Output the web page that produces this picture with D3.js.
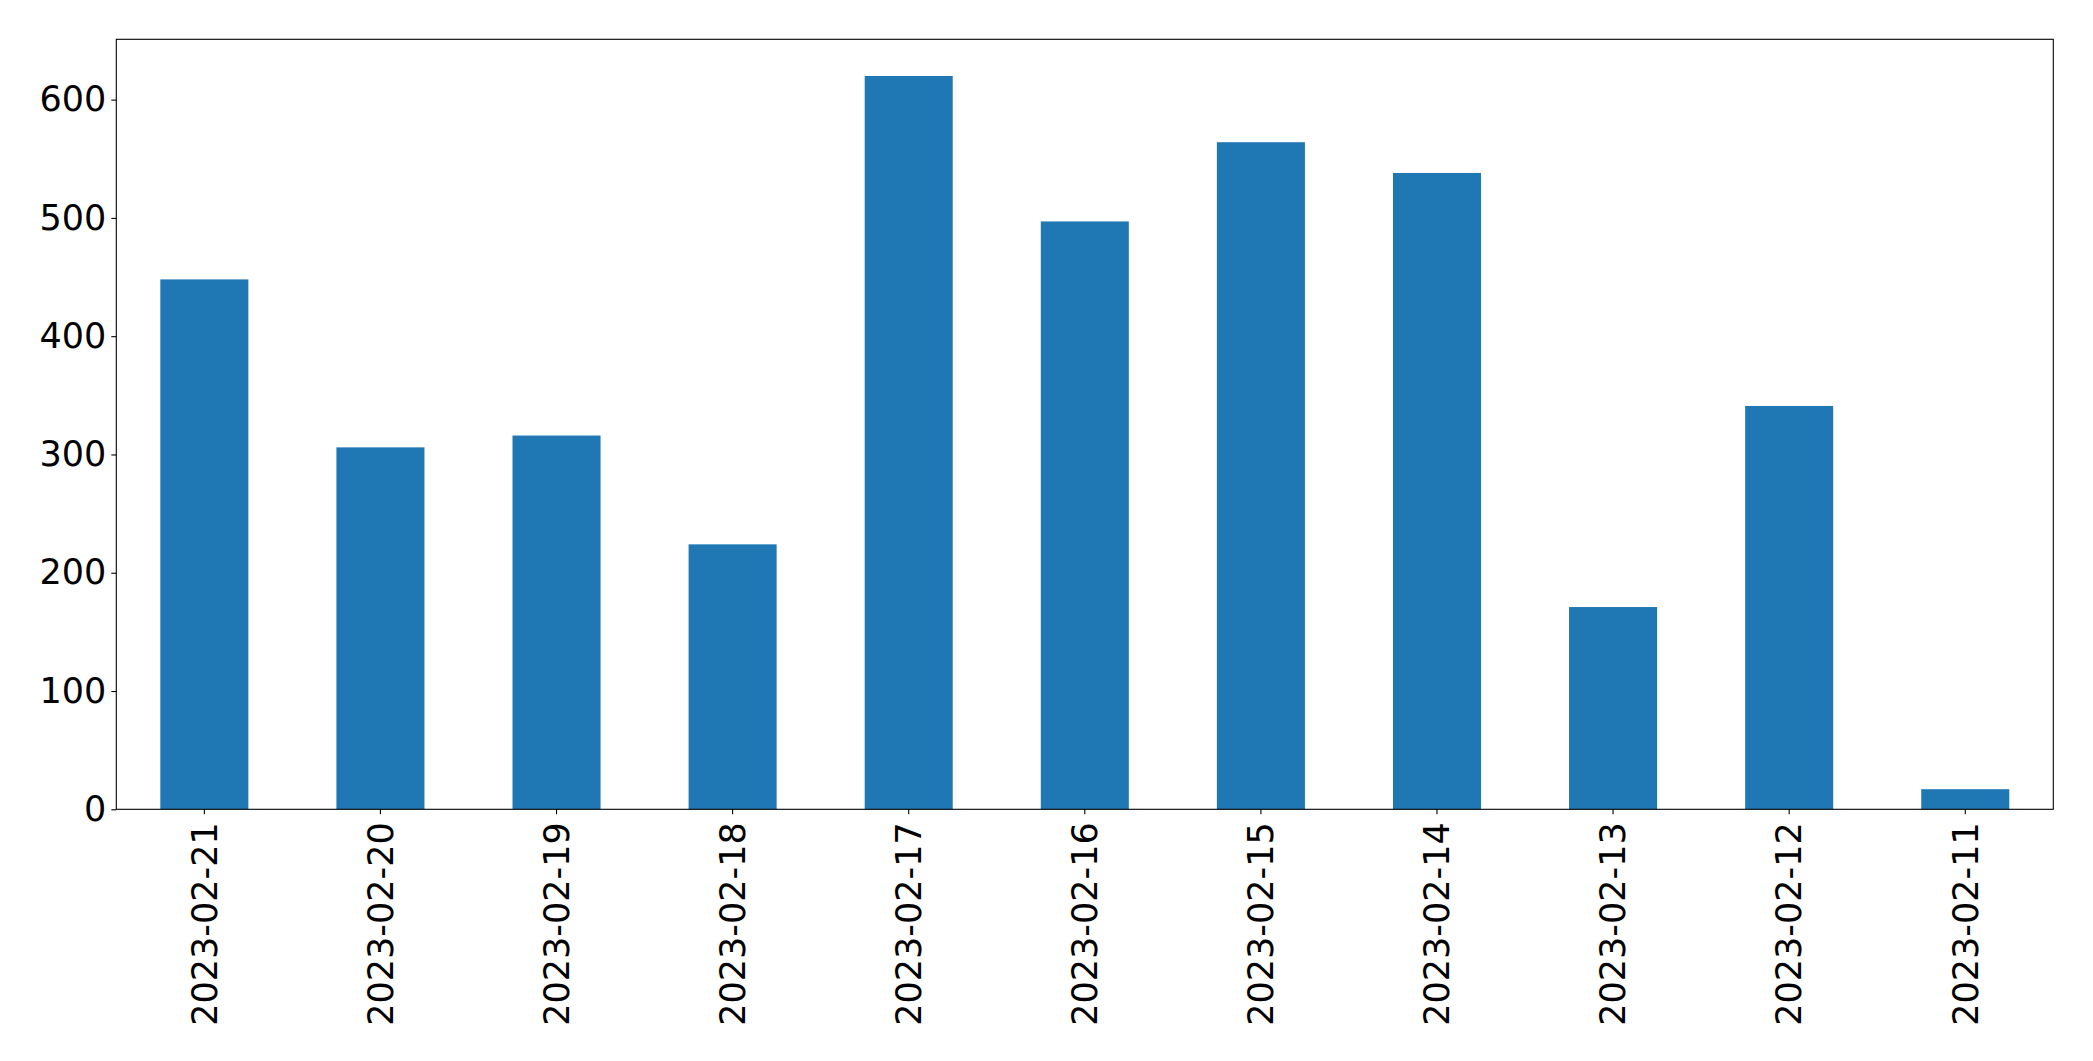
<!DOCTYPE html>
<html>
<head>
<meta charset="utf-8">
<script src="https://cdn.jsdelivr.net/npm/d3@7"></script>
<style>
  html, body { margin: 0; padding: 0; background: #ffffff; }
  svg { display: block; }
  text { font-family: "DejaVu Sans", sans-serif; }
</style>
</head>
<body>
<svg id="chart" width="2093" height="1061"></svg>
<script>
const categories = ["2023-02-21","2023-02-20","2023-02-19","2023-02-18","2023-02-17","2023-02-16","2023-02-15","2023-02-14","2023-02-13","2023-02-12","2023-02-11"];
const values = [448, 306, 316, 224, 620, 497, 564, 538, 171, 341, 17];
const yTicks = [0, 100, 200, 300, 400, 500, 600];

const W = 2093, H = 1061;
const margin = {left: 116.3, top: 39.3, right: W - 2053.3, bottom: H - 809.3};
const iw = W - margin.left - margin.right;
const ih = H - margin.top - margin.bottom;

const svg = d3.select("#chart");
const g = svg.append("g").attr("transform", `translate(${margin.left},${margin.top})`);

const x = d3.scaleBand().domain(categories).range([0, iw]).paddingInner(0.5).paddingOuter(0.25);
const y = d3.scaleLinear().domain([0, d3.max(values) * 1.05]).range([ih, 0]);

g.selectAll("rect.bar").data(values).enter().append("rect")
  .attr("class", "bar")
  .attr("x", (d, i) => x(categories[i]))
  .attr("width", x.bandwidth())
  .attr("y", d => y(d))
  .attr("height", d => ih - y(d))
  .attr("fill", "#1f77b4");

const fs = 35;
const yAxis = g.append("g").call(d3.axisLeft(y).tickValues(yTicks).tickSize(5).tickPadding(5));
yAxis.select(".domain").remove();
yAxis.selectAll(".tick line").attr("stroke", "#000").attr("stroke-width", 1.1);
yAxis.selectAll(".tick text").attr("font-size", fs).attr("fill", "#000").attr("font-family", "DejaVu Sans");

const xAxis = g.append("g").attr("transform", `translate(0,${ih})`)
  .call(d3.axisBottom(x).tickSize(5).tickPadding(5));
xAxis.select(".domain").remove();
xAxis.selectAll(".tick line").attr("stroke", "#000").attr("stroke-width", 1.1);
xAxis.selectAll(".tick text")
  .attr("font-size", fs).attr("fill", "#000").attr("font-family", "DejaVu Sans")
  .attr("text-anchor", "end")
  .attr("transform", "rotate(-90)")
  .attr("x", -13)
  .attr("y", 0)
  .attr("dy", "0.35em");

g.append("rect")
  .attr("x", 0).attr("y", 0).attr("width", iw).attr("height", ih)
  .attr("fill", "none").attr("stroke", "#000").attr("stroke-width", 1.1);
</script>
</body>
</html>
